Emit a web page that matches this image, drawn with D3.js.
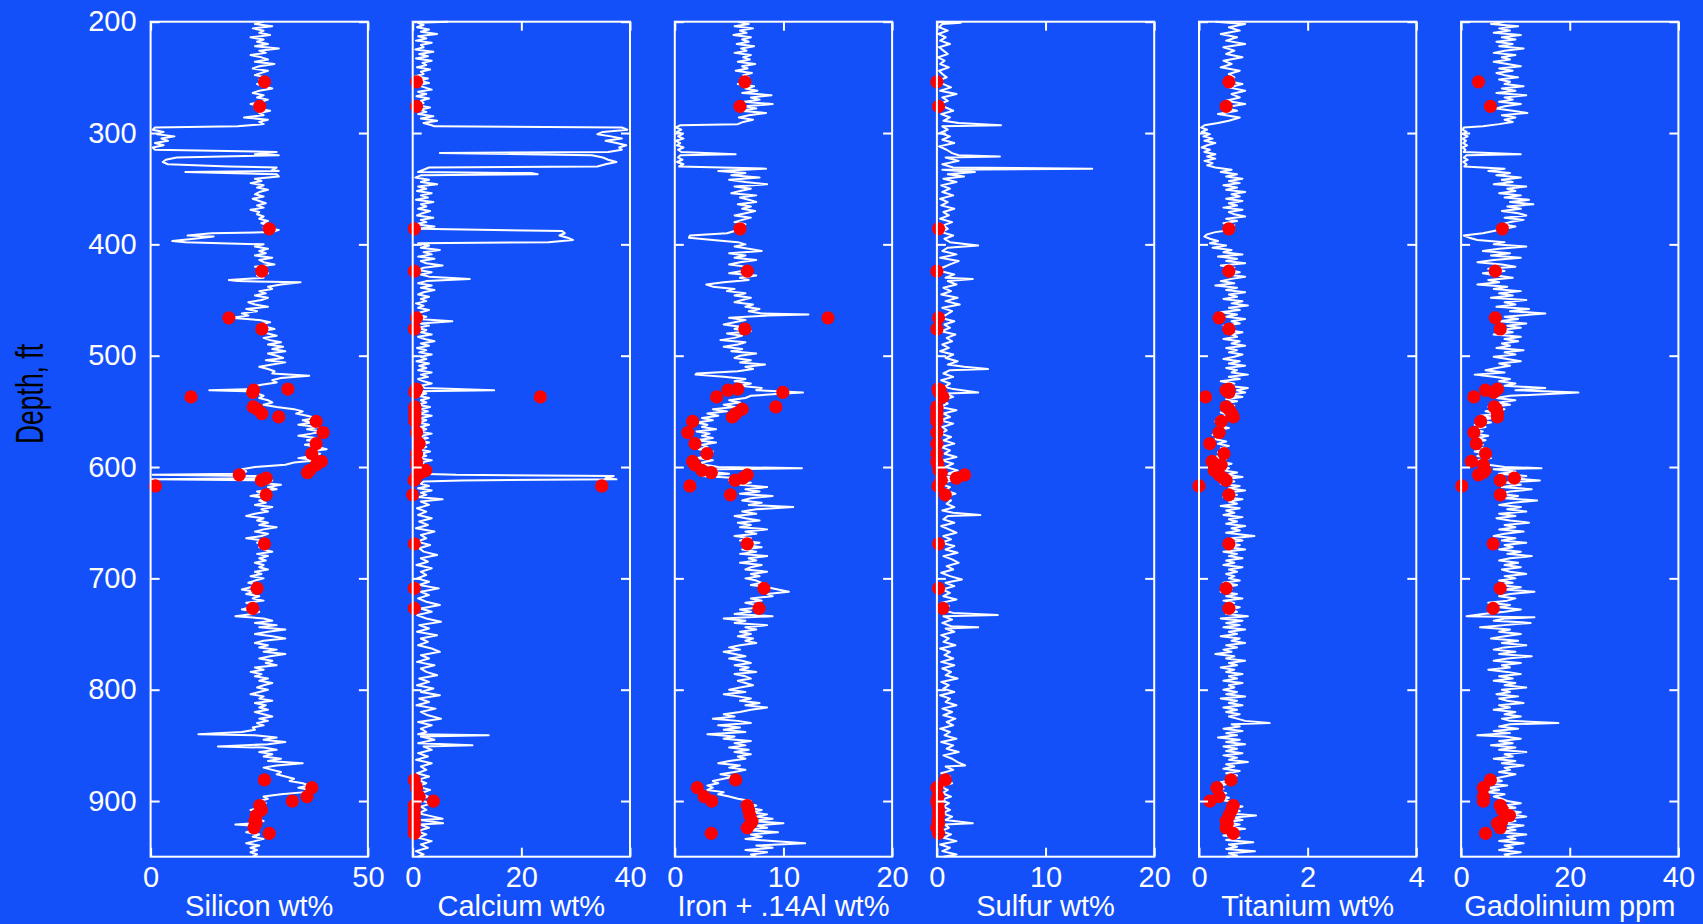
<!DOCTYPE html>
<html>
<head>
<meta charset="utf-8">
<script src="https://cdn.jsdelivr.net/npm/d3@7"></script>
<style>
  body { margin: 0; background: rgb(20,80,250); }
  svg { display: block; }
  text { font-family: "Liberation Sans", Arial, sans-serif; }
</style>
</head>
<body>
<script>
// depth, value pairs
var siliconLog = [[200,26],[202,24],[204,28],[206,23.5],[208,26],[210,25],[212,27.5],[214,23],[216,26],[218,24.5],[220,27],[222,24],[224,29.5],[226,25],[228,26.5],[230,23],[232,25.5],[234,27],[236,24],[238,28.5],[240,25],[242,23.5],[244,27],[246,25.5],[248,24],[250,26.5],[252,25],[254,27],[256,24.5],[258,26],[260,28],[262,25],[264,23.5],[266,26],[268,24.5],[270,27],[272,25.5],[274,23],[276,26],[278,24.5],[280,27.5],[282,25],[284,26],[286,21.5],[288,27],[290,25],[292,26],[294,20],[295,1],[297,0.5],[299,3],[301,1.5],[303,5.5],[305,2.5],[307,4],[309,1],[311,3],[313,0.5],[315,1],[317,29],[319,24],[320,29.5],[322,6],[324,3.5],[326,2.8],[328,4],[330,18],[331,29],[333,28],[334,29.5],[335,8],[337,29],[339,29.5],[341,24],[343,25.5],[345,23],[347,26],[349,24.5],[351,27],[353,25],[355,24],[357,26],[359,23.5],[361,25],[363,26.5],[365,24.5],[367,26],[369,23],[371,25],[373,24.5],[375,26],[377,25],[379,27],[381,25.5],[383,27.5],[385,26],[387,29.5],[389,28],[390,14],[392,8.5],[393,14.5],[395,10],[397,5],[398,8],[400,26],[402,24],[404,27],[406,25],[408,26.5],[410,24],[412,28],[414,25],[416,26],[418,28.5],[420,24],[422,26],[424,25.5],[426,27],[428,24.5],[430,26],[432,18],[433,20],[434,34.5],[436,30],[438,27],[440,28],[442,25],[444,26.5],[446,24],[448,27],[450,25.5],[452,22.5],[454,24],[456,27],[458,22],[460,24.5],[462,21],[464,22.5],[466,18.5],[468,25],[470,27.5],[472,25],[474,26.5],[476,28.5],[478,25],[480,27],[482,29],[484,26],[486,27.5],[488,30],[490,27],[492,30.5],[494,28],[496,31],[498,27],[500,29],[502,30.5],[504,26.5],[506,31],[508,28],[510,25],[512,27],[514,28.5],[516,28],[518,36.5],[520,30],[522,28],[524,29],[526,25.5],[528,23],[530,24],[531,13.5],[532,22],[534,24.5],[536,26],[538,25],[540,27],[542,28],[544,26],[546,29],[548,33],[550,35],[552,33.5],[554,36],[556,38],[558,35],[560,37],[562,34],[564,38.5],[566,36],[568,39.5],[570,37],[572,34],[574,38],[576,36],[578,39],[580,35.5],[582,38.5],[584,40.5],[586,36],[588,39],[590,37],[592,34],[594,38.5],[596,33],[598,31],[600,24],[602,21],[604,22],[606,20.5],[607,0.5],[608,24],[610,26],[611,0.3],[612,28],[614,25],[616,30],[618,27],[620,29],[622,24.5],[624,26],[626,23],[628,27.5],[630,25],[632,26.5],[634,24],[636,28],[638,25.5],[640,27],[642,24],[644,22],[646,26],[648,24.5],[650,27],[652,25],[654,29],[656,26],[658,24],[660,27],[662,25.5],[664,22],[666,26],[668,24.5],[670,27],[672,25],[674,26],[676,28],[678,24.5],[680,27],[682,25],[684,26.5],[686,24],[688,26],[690,25],[692,27],[694,24],[696,25.5],[698,23],[700,26],[702,24],[704,22.5],[706,25],[708,23],[710,21],[712,24],[714,22],[716,25],[718,23.5],[720,26],[722,22],[724,24],[726,23],[728,21],[730,25],[732,23.5],[734,19.5],[736,26],[738,28],[740,24],[742,29],[744,25],[746,31],[748,27],[750,24],[752,28],[754,31],[756,26],[758,24],[760,27],[762,25],[764,29],[766,26],[768,31],[770,27.5],[772,25],[774,28],[776,26.5],[778,29],[780,24],[782,26],[784,23],[786,25.5],[788,24],[790,27],[792,25],[794,28],[796,26],[798,24.5],[800,27],[802,25],[804,23],[806,26],[808,25],[810,28],[812,24],[814,26.5],[816,25],[818,27],[820,24],[822,26],[824,28],[826,25],[828,27],[830,24.5],[832,26],[834,23.5],[836,24],[838,21],[840,11],[841,24],[843,29],[845,26],[847,31],[849,27],[851,15.5],[852,26],[854,29],[856,25],[858,28],[860,26],[862,30],[864,27],[866,35],[868,29],[870,26],[872,28],[874,30],[876,29],[878,31],[880,33],[882,32],[884,35],[886,36.5],[888,34],[890,37],[892,35.5],[894,30],[896,26],[898,27],[900,25],[902,26.5],[904,24],[906,25.5],[908,23],[910,26],[912,24],[914,25],[916,23.5],[918,26],[920,24],[921,19.5],[922,23],[924,25],[926,24],[928,22],[930,25],[932,23.5],[934,26],[936,24],[938,22],[940,25],[942,23],[944,24.5],[946,23],[948,24.5],[950,23.5]];

var calciumLog = [[200,6.5],[201,1],[203,2],[205,0.8],[207,3],[209,1.5],[211,4.5],[213,1],[215,2.5],[217,0.6],[219,3.5],[221,1.5],[223,2],[225,0.5],[227,3.8],[229,1.2],[231,2.8],[233,0.6],[235,3.5],[237,1.8],[239,2.5],[241,0.8],[243,3.2],[245,1.5],[247,2],[249,0.5],[251,2.8],[253,1.2],[255,3],[257,0.8],[259,2.2],[261,3.5],[263,1],[265,2.5],[267,0.7],[269,3],[271,1.5],[273,2],[275,0.8],[277,3.2],[279,1.2],[281,2.5],[283,1],[285,3.8],[287,1.5],[289,4.5],[291,2],[293,3.5],[294,4],[295,38.5],[297,39.5],[299,35],[301,34],[303,36.5],[305,38.5],[307,35.5],[309,37.5],[311,39.3],[313,38],[315,38.5],[317,36],[318,5],[320,33],[322,35],[324,36],[326,37.5],[328,35.5],[330,34],[331,3],[333,2],[335,1],[336,22],[337,23],[338,1.5],[340,0.5],[342,3],[344,1.5],[346,4.5],[348,1],[350,2.5],[352,0.8],[354,3.5],[356,1.5],[358,2.8],[360,0.6],[362,3.8],[364,1.5],[366,2.5],[368,1],[370,3.2],[372,1.8],[374,0.8],[376,3.8],[378,1.5],[380,2.5],[382,0.5],[384,4],[386,1],[388,27.5],[390,28],[392,27],[394,28.5],[396,29.5],[398,25],[399,1],[401,3],[403,1.5],[405,5],[407,2],[409,3.5],[411,1],[413,4],[415,1.5],[417,2.5],[419,5.5],[421,2],[423,1],[425,3.5],[427,1.5],[429,3],[431,10.5],[433,2.5],[435,1],[437,3.5],[439,1.5],[441,4],[443,2],[445,1],[447,3],[449,1.5],[451,2.5],[453,0.6],[455,2],[457,1],[459,3],[461,1.5],[463,0.5],[465,2.5],[467,1],[469,7.3],[471,1.5],[473,3],[475,0.8],[477,2.5],[479,1.5],[481,3.5],[483,1],[485,2.2],[487,4],[489,1.5],[491,3],[493,0.8],[495,2.5],[497,1.2],[499,3.5],[501,1.5],[503,2.5],[505,0.7],[507,3],[509,1.2],[511,2.5],[513,1],[515,3.5],[517,1.5],[519,2.8],[521,1],[523,2],[525,3.5],[527,1.5],[529,2.2],[531,15],[532,1],[534,2.5],[536,1],[538,3],[540,1.5],[542,2.5],[544,0.8],[546,3.2],[548,1.5],[550,2.8],[552,1],[554,3.5],[556,1.5],[558,2.5],[560,1],[562,3],[564,1.5],[566,2.5],[568,1],[570,3.5],[572,1.5],[574,2.8],[576,1],[578,3],[580,1.5],[582,2.5],[584,0.8],[586,3.2],[588,1.5],[590,2.5],[592,1],[594,3.5],[596,1.5],[598,2.2],[600,3],[602,1.5],[604,2.5],[606,1],[607,8],[608,37],[610,35.5],[611,37.5],[612,9],[613,2],[615,1.5],[617,3],[619,1],[621,3.5],[623,1.5],[625,2.5],[627,1],[629,5.5],[631,1.5],[634,3],[637,0.8],[640,2.5],[643,1],[646,3.5],[649,1.2],[652,2.8],[655,0.6],[658,4],[661,1.5],[664,2.5],[667,0.8],[670,3.2],[673,1.2],[676,2],[679,4.5],[682,1.5],[685,2.8],[688,0.7],[691,3.5],[694,1.5],[697,2.5],[700,0.8],[703,3],[706,1.2],[709,4.8],[712,1.5],[715,3],[718,1],[721,2.5],[724,5],[727,1.5],[730,3.5],[733,0.8],[736,2.5],[739,5.2],[742,1.2],[745,3],[748,0.8],[751,4.5],[754,1.5],[757,2.8],[760,1],[763,3.5],[766,5],[769,1.5],[772,3],[775,0.8],[778,4],[781,1.5],[784,2.5],[787,4.5],[790,1.2],[793,3],[796,0.8],[799,3.8],[802,1.5],[805,5],[808,1.2],[811,3],[814,0.7],[817,4.2],[820,1.5],[823,2.8],[826,5.2],[829,1],[832,3.5],[835,1.5],[838,2.5],[840,1],[841,14],[842,1.5],[845,4],[848,1],[850,11],[851,2],[854,3.5],[857,1],[860,2.8],[863,0.6],[866,3.5],[869,1.5],[872,2.5],[875,0.8],[878,3],[881,1],[884,2.5],[887,0.8],[890,3.2],[893,1.5],[896,2.8],[899,1],[902,3.5],[905,1.5],[908,2.5],[911,1],[914,3.8],[916,5.5],[917,1.5],[920,5.6],[921,1.2],[924,3],[927,0.8],[930,2.5],[933,1],[936,3.5],[939,1.5],[942,2.8],[945,0.6],[948,2],[950,1]];

var ironLog = [[200,5.8],[202,6.8],[204,5.5],[206,7.2],[208,6],[210,6.6],[212,5.4],[214,7],[216,6.2],[218,6.8],[220,5.7],[222,7.3],[224,6.1],[226,6.6],[228,5.5],[230,7],[232,6.3],[234,6.9],[236,5.8],[238,7.4],[240,6.2],[242,6.7],[244,5.6],[246,7.1],[248,6.3],[250,6.8],[252,6],[254,6.6],[256,5.8],[258,7.3],[260,6.5],[262,7.6],[264,6.2],[266,8.9],[268,7],[270,7.8],[272,6.4],[274,9],[276,6.5],[278,7.5],[280,6],[282,8.4],[284,6.8],[286,5.9],[288,7.2],[290,6.3],[292,5.8],[293,0.5],[295,0.1],[297,0.6],[299,0.2],[301,0.7],[303,0.3],[305,0.8],[307,0.1],[309,0.5],[311,0.2],[313,0.8],[315,0.3],[317,0.6],[319,5.6],[320,0.5],[322,0.3],[324,0.7],[326,0.2],[328,0.8],[330,0.4],[332,8.4],[334,4],[336,6.5],[338,5.2],[340,7.8],[342,5],[344,6.5],[346,8.5],[348,5.5],[350,7],[352,6],[354,5.2],[356,7.5],[358,6],[360,6.8],[362,7.5],[364,5.8],[366,7],[368,6.2],[370,7.4],[372,6.5],[374,5.5],[376,7],[378,6.2],[380,5.5],[382,6.5],[384,5.8],[386,6],[388,5.5],[390,4.8],[392,1.4],[394,1.3],[396,3.5],[398,5.8],[400,6.5],[402,5.5],[404,6.8],[406,8],[408,5],[410,6.5],[412,5.5],[414,7.5],[416,6],[418,5],[420,6.5],[422,7],[424,6.2],[426,5],[428,7.5],[430,6],[432,6.8],[434,4.5],[436,2.9],[438,3.5],[440,5.5],[442,4.8],[444,6.5],[446,5.5],[448,7],[450,6.2],[452,5.5],[454,7.2],[456,6.5],[458,7.8],[460,6.8],[462,8],[463,12.3],[464,8.5],[466,5],[468,6.5],[470,5.5],[472,4.5],[474,6],[476,5.5],[478,7],[480,4.8],[482,6.2],[484,5.5],[486,4.2],[488,6.5],[490,5.8],[492,4.5],[494,6.2],[496,5.2],[498,7.5],[500,6],[502,5.5],[504,7],[506,6],[508,8.3],[510,6.5],[512,7.2],[514,5.8],[516,2],[517,1.9],[519,4.5],[521,6.5],[523,5.5],[525,7],[527,6],[529,8],[531,7.5],[533,11.8],[534,10],[536,7],[538,6.5],[540,5],[542,6],[544,4.5],[546,5.5],[548,3.5],[550,4.8],[552,3],[554,4],[556,2.5],[558,3.5],[560,2],[562,3],[564,2.5],[566,3.8],[568,2],[570,3.2],[572,2.5],[574,3.5],[576,2],[578,3.8],[580,2.5],[582,3],[584,2.2],[586,3.5],[588,2.6],[590,3],[592,2],[594,3.5],[596,2.5],[598,2.8],[600,4],[601,11.7],[602,4],[604,3],[606,5],[608,2.5],[610,6],[612,5],[614,7],[616,6],[618,8.5],[620,6.5],[622,7.8],[624,6],[626,9],[628,7],[630,6.2],[632,8],[634,6.8],[636,10.9],[638,7.5],[640,6.2],[642,7.5],[644,5.5],[646,6.5],[648,7.8],[650,5.8],[652,7],[654,6],[656,8.5],[658,6.5],[660,7.5],[662,5.5],[664,7],[666,6],[668,7.8],[670,6.5],[672,8],[674,6.2],[676,7.5],[678,6],[680,8.5],[682,6.8],[684,7.5],[686,6],[688,8],[690,7],[692,6.5],[694,8.5],[696,7],[698,7.8],[700,6.5],[702,7.5],[704,8],[706,7],[708,8.5],[710,9.5],[712,10.5],[714,8.5],[716,9],[718,7],[720,8],[722,6.5],[724,7.5],[726,8],[728,6],[730,7],[732,5.5],[734,9],[736,4.5],[738,6.5],[740,5.5],[742,8.5],[744,6.5],[746,7.5],[748,6],[750,7],[752,5.8],[754,7.2],[756,6.5],[758,7.5],[760,6],[762,5],[764,6],[766,4.5],[768,5.5],[770,6.5],[772,5],[774,6.2],[776,7],[778,5.5],[780,6.8],[782,6],[784,7.5],[786,5.5],[788,6.5],[790,7],[792,5.8],[794,6.5],[796,7.2],[798,6],[800,5],[802,6.5],[804,4.5],[806,5.8],[808,7],[810,6],[812,7.8],[814,6.5],[816,8.5],[818,7],[820,6],[822,4.5],[824,5.5],[826,3.5],[828,5.8],[830,7],[832,4],[834,6],[836,4.5],[838,6.5],[840,3],[842,5.5],[844,4.5],[846,7],[848,5.5],[850,6.5],[852,5],[854,6.8],[856,5.5],[858,7],[860,5.8],[862,6.5],[864,5],[866,4],[868,6],[870,5],[872,6.5],[874,5.5],[876,4.2],[878,5.5],[880,4.5],[882,3.5],[884,4],[886,3],[888,3.5],[890,3],[892,4.5],[894,4],[896,5],[898,5.8],[900,7],[902,6.5],[904,7.5],[906,6.8],[908,8],[910,7],[912,8.5],[914,7.5],[916,9],[918,7],[920,10],[922,7.5],[924,8.5],[926,6.5],[928,9.5],[930,7],[932,8],[934,6.5],[936,9],[938,12],[940,7.5],[942,9],[944,6.5],[946,8.5],[948,7],[950,7.5]];

var sulfurLog = [[200,0.3],[201,2.2],[202,0.5],[205,0.2],[208,1],[211,0.1],[214,0.8],[217,0.3],[220,1.2],[223,0.2],[226,0.6],[229,1],[232,0.1],[235,0.7],[238,0.3],[241,1.1],[244,0.2],[247,0.5],[250,0.9],[253,0.1],[256,0.6],[259,1.3],[262,0.3],[265,1.8],[268,0.5],[271,1],[274,0.2],[277,0.8],[280,1.5],[283,0.4],[286,1.2],[289,0.6],[291,2],[293,5.9],[294,0.5],[297,1],[300,0.3],[303,1.2],[306,0.5],[309,1.6],[312,0.2],[315,0.9],[318,1.4],[320,2],[321,5.8],[322,0.8],[325,2],[328,0.5],[331,1.5],[332,14.3],[333,0.5],[335,3.5],[337,1],[339,2.5],[341,0.6],[344,1.8],[347,0.4],[350,1.2],[353,0.5],[356,1.5],[359,0.3],[362,1],[365,0.4],[368,1.6],[371,0.6],[374,1.1],[377,0.3],[380,1.4],[383,0.6],[386,1],[389,0.4],[392,1.5],[395,0.7],[398,1.2],[401,3.8],[403,1],[406,0.5],[409,1.8],[412,0.3],[415,2],[418,1.2],[421,0.5],[424,0.3],[427,1.6],[430,0.8],[431,3.3],[433,1],[436,1.8],[439,0.6],[442,1.3],[445,0.4],[448,1.9],[451,0.8],[454,2.1],[457,0.5],[460,1.4],[463,0.9],[466,0.3],[469,1.6],[472,0.7],[475,1.2],[478,0.4],[481,1.7],[484,0.9],[487,1.4],[490,0.5],[493,1.1],[496,0.3],[499,1.5],[502,0.8],[505,1.9],[508,1],[510,2.5],[512,4.7],[513,1.2],[516,0.6],[519,1.5],[522,0.4],[525,1.2],[528,0.7],[530,1.5],[533,3.8],[534,0.8],[537,1.5],[540,0.5],[543,1],[546,0.3],[549,1.8],[552,0.6],[555,1.2],[558,0.3],[561,1.5],[564,0.5],[567,0.9],[570,0.3],[573,1.3],[576,0.6],[579,1.6],[582,0.4],[585,1.2],[588,0.7],[591,1.8],[594,0.5],[597,1.5],[600,0.8],[603,1.9],[606,1],[608,3],[609,0.6],[612,1.4],[615,0.3],[618,1.2],[621,0.8],[624,1.7],[627,0.4],[630,1.3],[633,0.9],[636,1.6],[639,0.5],[641,1.5],[643,4],[644,1],[647,0.6],[650,1.6],[653,0.4],[656,1.1],[659,1.8],[662,0.6],[665,1.3],[668,0.4],[671,1.6],[674,0.8],[677,1.9],[680,0.6],[683,1.4],[686,2],[689,0.9],[692,1.5],[695,0.4],[698,1.2],[701,2.3],[704,0.8],[707,1.6],[710,0.5],[713,1.2],[716,0.6],[719,1.8],[722,0.4],[725,1.1],[728,0.3],[731,1.5],[733,5.6],[734,0.6],[737,1.4],[740,0.5],[743,1.3],[744,3.8],[745,0.8],[748,1.6],[751,0.4],[754,1.1],[757,0.6],[760,1.7],[763,0.3],[766,1.2],[769,0.7],[772,1.5],[775,0.4],[778,1.6],[781,0.5],[784,1.3],[787,0.8],[790,1.9],[793,0.4],[796,1.1],[799,0.6],[802,1.6],[805,0.3],[808,1.2],[811,0.8],[814,1.8],[817,0.5],[820,1.4],[823,0.6],[826,1.7],[829,0.9],[832,1.5],[835,0.3],[838,1.2],[841,0.7],[844,1.8],[847,0.4],[850,1.5],[853,0.9],[856,2],[859,0.6],[862,1.4],[865,1.9],[868,2.6],[869,0.8],[872,1.5],[875,0.4],[878,1.2],[881,0.6],[884,1.4],[887,0.3],[890,1],[893,0.5],[896,1.3],[899,0.4],[902,1.1],[905,0.6],[908,1.2],[911,0.5],[914,1.4],[917,0.8],[920,3.3],[921,0.7],[924,1.1],[927,0.4],[930,1.3],[933,0.6],[936,1.8],[939,0.3],[942,1.2],[945,0.5],[948,1.8],[950,0.6]];

var titaniumLog = [[200,0.3],[202,0.85],[205,0.55],[208,0.75],[211,0.4],[214,0.7],[217,0.5],[220,0.85],[223,0.45],[226,0.65],[229,0.5],[232,0.8],[235,0.45],[238,0.6],[241,0.4],[244,0.75],[247,0.55],[250,0.65],[253,0.5],[256,0.8],[259,0.55],[262,0.85],[265,0.6],[268,0.75],[271,0.5],[274,0.85],[277,0.45],[280,0.7],[283,0.35],[286,0.75],[289,0.55],[291,0.35],[293,0.1],[295,0.04],[297,0.15],[299,0.05],[301,0.2],[303,0.08],[305,0.25],[307,0.1],[309,0.3],[311,0.15],[313,0.05],[315,0.2],[317,0.1],[319,0.3],[321,0.15],[323,0.3],[325,0.1],[327,0.25],[329,0.15],[331,0.3],[333,0.6],[335,0.4],[337,0.7],[339,0.5],[341,0.8],[343,0.55],[345,0.75],[347,0.45],[349,0.7],[351,0.5],[353,0.85],[355,0.6],[357,0.75],[359,0.5],[361,0.8],[363,0.55],[365,0.7],[367,0.45],[369,0.8],[371,0.55],[373,0.65],[375,0.85],[377,0.5],[379,0.7],[381,0.45],[383,0.65],[385,0.5],[387,0.6],[389,0.3],[391,0.15],[393,0.1],[395,0.2],[397,0.35],[399,0.2],[401,0.5],[403,0.25],[405,0.6],[407,0.45],[409,0.8],[411,0.35],[413,0.7],[415,0.5],[417,0.85],[419,0.4],[421,0.65],[423,0.55],[425,0.75],[427,0.5],[429,0.85],[431,0.6],[433,0.4],[435,0.65],[437,0.3],[439,0.7],[441,0.5],[443,0.85],[445,0.55],[447,0.7],[449,0.45],[451,0.8],[453,0.6],[455,0.9],[457,0.55],[459,0.75],[461,0.4],[463,0.7],[465,0.5],[467,0.85],[469,0.6],[471,0.75],[473,0.45],[475,0.65],[477,0.5],[479,0.8],[481,0.6],[483,0.7],[485,0.45],[487,0.75],[489,0.6],[491,0.85],[493,0.5],[495,0.7],[497,0.55],[499,0.8],[501,0.65],[503,0.45],[505,0.75],[507,0.55],[509,0.85],[511,0.5],[513,0.7],[515,0.6],[517,0.9],[519,0.55],[521,0.75],[523,0.4],[525,0.65],[527,0.5],[529,0.9],[531,0.7],[533,0.85],[535,0.55],[537,0.8],[539,0.5],[541,0.7],[543,0.45],[545,0.65],[547,0.5],[549,0.6],[551,0.4],[553,0.55],[555,0.35],[557,0.5],[559,0.3],[561,0.45],[563,0.35],[565,0.55],[567,0.3],[569,0.45],[571,0.25],[573,0.4],[575,0.3],[577,0.5],[579,0.35],[581,0.55],[583,0.4],[585,0.5],[587,0.35],[589,0.45],[591,0.3],[593,0.5],[595,0.35],[597,0.6],[599,0.4],[601,0.55],[603,0.45],[605,0.7],[607,0.5],[609,0.8],[611,0.45],[613,0.65],[615,0.4],[617,0.75],[619,0.55],[621,0.85],[623,0.5],[625,0.7],[627,0.45],[629,0.8],[631,0.55],[633,0.7],[635,0.4],[637,0.75],[639,0.5],[641,0.65],[643,0.45],[645,0.8],[647,0.55],[649,0.7],[651,0.5],[653,0.85],[655,0.6],[657,0.75],[659,0.5],[661,0.85],[662,1.02],[664,0.6],[666,0.8],[668,0.5],[670,0.75],[672,0.55],[674,0.85],[676,0.45],[678,0.7],[680,0.55],[682,0.8],[684,0.5],[686,0.65],[688,0.45],[690,0.8],[692,0.55],[694,0.7],[696,0.5],[698,0.65],[700,0.55],[702,0.75],[704,0.45],[706,0.7],[708,0.5],[710,0.6],[712,0.4],[714,0.7],[716,0.5],[718,0.8],[720,0.45],[722,0.65],[724,0.5],[726,0.75],[728,0.55],[730,0.7],[732,0.5],[734,0.9],[736,0.4],[738,0.8],[740,0.5],[742,0.75],[744,0.45],[746,0.85],[748,0.55],[750,0.7],[752,0.4],[754,0.75],[756,0.6],[758,0.85],[760,0.5],[762,0.7],[764,0.45],[766,0.6],[768,0.3],[770,0.65],[772,0.5],[774,0.85],[776,0.55],[778,0.7],[780,0.4],[782,0.65],[784,0.5],[786,0.8],[788,0.55],[790,0.7],[792,0.45],[794,0.8],[796,0.55],[798,0.65],[800,0.45],[802,0.7],[804,0.5],[806,0.85],[808,0.4],[810,0.7],[812,0.55],[814,0.8],[816,0.45],[818,0.7],[820,0.5],[822,0.75],[824,0.55],[826,0.7],[828,0.85],[830,1.3],[831,0.6],[833,0.75],[835,0.45],[837,0.8],[839,0.5],[841,0.7],[843,0.35],[845,0.75],[847,0.5],[849,0.85],[851,0.45],[853,0.7],[855,0.5],[857,0.8],[859,0.45],[861,0.7],[863,0.55],[865,0.9],[867,0.5],[869,0.65],[871,0.45],[873,0.75],[875,0.5],[877,0.7],[879,0.55],[881,0.6],[883,0.4],[885,0.5],[887,0.35],[889,0.45],[891,0.3],[893,0.5],[895,0.35],[897,0.55],[899,0.4],[901,0.7],[903,0.55],[905,0.8],[907,0.6],[909,0.75],[911,0.5],[913,1.05],[915,0.6],[917,0.8],[919,0.5],[921,0.75],[923,0.55],[925,0.85],[927,0.5],[929,0.7],[931,0.45],[933,0.75],[935,0.5],[937,1],[939,0.55],[941,0.7],[943,0.5],[945,1.03],[947,0.55],[949,0.7],[950,0.5]];

var gadoliniumLog = [[200,8],[202,5.5],[204,10.5],[206,7],[208,9],[210,6],[212,11],[214,7.5],[216,10],[218,6.5],[220,9.5],[222,7],[224,11.5],[226,8],[228,6],[230,10],[232,7.5],[234,9],[236,6],[238,8.5],[240,11],[242,7],[244,9.5],[246,6.5],[248,8],[250,10.5],[252,7],[254,9],[256,8],[258,11.5],[260,7.5],[262,10],[264,6.5],[266,12],[268,8],[270,9.5],[272,7],[274,11],[276,8],[278,6.5],[280,9.5],[282,12.2],[284,7.5],[286,10],[288,8],[290,9.5],[292,7],[294,4],[295,0.5],[297,0.3],[299,1],[301,0.4],[303,1.2],[305,0.3],[307,0.9],[309,0.4],[311,1.1],[313,0.3],[315,0.8],[317,0.5],[319,11],[320,1],[322,0.5],[324,1.2],[326,0.4],[328,1],[330,0.6],[332,8],[334,5],[336,9],[338,6.5],[340,11],[342,7.5],[344,9.5],[346,6],[348,12],[350,8.5],[352,10],[354,7],[356,11],[358,8],[360,12.5],[362,9],[364,13.3],[366,8.5],[368,11],[370,7.5],[372,10.5],[374,12],[376,8],[378,11.5],[380,9],[382,7.5],[384,10],[386,8],[388,6],[390,4],[392,0.5],[394,1.5],[396,3],[398,8],[400,6],[402,12],[404,7],[406,4],[408,9],[410,5.5],[412,11],[414,6],[416,3],[418,7.5],[420,10],[422,5],[424,8],[426,4],[428,6.5],[430,9.5],[432,5],[434,7],[436,3],[438,8.5],[440,6],[442,11],[444,7],[446,9.5],[448,5.5],[450,12],[452,8],[454,10],[456,6.5],[458,12.5],[460,9],[462,15.5],[463,13],[465,8],[467,10.5],[469,7],[471,12],[473,8.5],[475,11],[477,7],[479,9.5],[481,6],[483,11],[485,8],[487,10.5],[489,7.5],[491,9],[493,6.5],[495,11.5],[497,8],[499,10],[501,6],[503,8.5],[505,11],[507,7],[509,9],[511,6.5],[513,4.5],[515,8],[517,2.5],[519,6],[521,9],[523,7],[525,10],[527,8],[529,15.5],[531,10],[533,21.6],[534,18],[536,9],[538,6.5],[540,10],[542,7],[544,9],[546,5],[548,8],[550,4.5],[552,7],[554,3.5],[556,6],[558,3],[560,5.5],[562,2.5],[564,4.5],[566,2],[568,4],[570,2.5],[572,5],[574,3],[576,4.5],[578,2],[580,4],[582,3],[584,5],[586,2.5],[588,4.5],[590,3],[592,5.5],[594,3],[596,4],[598,5],[600,8],[601,14.8],[602,6],[604,10],[606,7],[608,12],[610,9],[612,14.5],[614,8],[616,11],[618,7.5],[620,13],[622,9],[624,7],[626,10.5],[628,8],[630,14],[632,9.5],[634,7],[636,11],[638,8.5],[640,12],[642,7],[644,10],[646,6.5],[648,9],[650,12.5],[652,8],[654,10],[656,7],[658,11.5],[660,8],[662,6],[664,10],[666,7.5],[668,12],[670,8],[672,9.5],[674,7],[676,11],[678,8.5],[680,13],[682,9],[684,7],[686,10.5],[688,8],[690,11],[692,7.5],[694,9],[696,12],[698,8],[700,10],[702,7],[704,9.5],[706,6.5],[708,11],[710,8],[712,13.5],[714,9],[716,7],[718,10],[720,8.5],[722,5],[724,9],[726,7],[728,11],[730,8],[732,4],[734,1],[735,13.5],[736,8],[738,6],[740,12.8],[742,8],[744,3.5],[746,9],[748,7],[750,11],[752,8],[754,5.5],[756,10.5],[758,7.5],[760,12],[762,8],[764,6],[766,10],[768,7],[770,13],[772,8.5],[774,6],[776,11],[778,7.5],[780,9],[782,5],[784,8.5],[786,11],[788,7],[790,9.5],[792,6],[794,10],[796,8],[798,12],[800,7.5],[802,9],[804,6.5],[806,10.5],[808,7],[810,8.5],[812,11.5],[814,7],[816,9],[818,6],[820,10],[822,8],[824,11],[826,7.5],[828,9],[830,17.9],[831,9],[833,7],[835,10.5],[837,6],[839,9],[841,3],[842,8],[844,11],[846,7],[848,9.5],[850,5.5],[852,10],[854,7],[856,12],[858,8],[860,9.5],[862,6],[864,10],[866,7.5],[868,11.5],[870,8],[872,9],[874,7],[876,10],[878,8],[880,6],[882,7.5],[884,4.5],[886,8.5],[888,5],[890,7],[892,4.5],[894,8],[896,6],[898,7.5],[900,8.5],[902,11],[904,8],[906,10],[908,7.5],[910,11],[912,9],[914,12],[916,8],[918,10],[920,7],[922,11.5],[924,8.5],[926,10],[928,7],[930,12],[932,8.5],[934,10],[936,7],[938,11.5],[940,8],[942,9.5],[944,7],[946,11],[948,8],[950,9]];

// core sample depths (red dots) and the measured values at each
var sampleDepth = [254,276,386,424,466,476,530,531,533,537,546,548,552,555,559,569,579,588,595,598,603,605,607,610,612,617,625,669,709,727,881,888,896,900,904,908,913,918,920,924,929];
var siliconSample = [26.2,25.1,27.3,25.6,18.0,25.6,31.6,23.7,23.5,9.3,23.6,24.5,25.6,29.5,38.1,39.7,38.1,37.1,39.3,38.1,36.6,36.1,20.4,26.6,25.5,1.1,26.6,26.2,24.5,23.5,26.2,37.1,36.0,32.6,25.1,25.5,24.3,24.0,24.3,23.8,27.3];
var calciumSample = [0.7,0.7,0.3,0.3,0.7,0.3,0.7,0.5,0.4,23.5,0.4,0.4,0.4,0.4,0.4,0.7,1.2,0.7,0.7,0.7,2.4,1.5,0.8,0.5,0.25,34.8,0,0.3,0.3,0.3,0.3,0.7,1.2,3.8,0.3,0.3,0.3,0.3,0.3,0.3,0.3];
var ironSample = [6.45,6.0,6.0,6.67,14.1,6.45,5.8,4.9,9.94,3.86,9.3,6.2,5.6,5.3,1.64,1.2,1.85,2.96,1.64,1.85,2.5,3.36,6.67,6.27,5.55,1.39,5.12,6.67,8.2,7.75,5.6,2.07,2.7,3.4,6.67,6.8,6.9,7.1,7.0,6.67,3.36];
var sulfurSample = [0,0.15,0.15,0,0.15,0,0.1,0.3,0.2,0.55,0,0,0,0,0,0,0,0,0,0.1,0.2,0.4,2.55,1.8,0.4,0.1,0.77,0.15,0.15,0.55,0.77,0,0.1,0,0.1,0.15,0.15,0.1,0.15,0,0.15];
var titaniumSample = [0.55,0.5,0.55,0.55,0.37,0.55,0.55,0.5,0.55,0.12,0.5,0.55,0.6,0.63,0.41,0.37,0.2,0.46,0.24,0.41,0.28,0.35,0.37,0.45,0.5,0,0.55,0.55,0.5,0.55,0.59,0.33,0.37,0.2,0.63,0.6,0.55,0.5,0.52,0.5,0.63];
var gadoliniumSample = [3.2,5.4,7.6,6.3,6.3,7.2,6.7,4.5,6.0,2.35,6.1,6.5,6.7,6.7,3.6,2.35,2.8,4.5,1.9,4.1,4.4,4.0,3.2,9.8,7.2,0.12,7.2,5.9,7.2,5.9,5.4,4.1,4.1,4.1,7.2,7.6,8.9,7.5,6.7,7.2,4.5];

var panelTitles = ["Silicon wt%", "Calcium wt%", "Iron + .14Al wt%", "Sulfur wt%", "Titanium wt%", "Gadolinium ppm"];
var panelMax = [50, 40, 20, 20, 4, 40];
var panelTicks = [[0,50],[0,20,40],[0,10,20],[0,10,20],[0,2,4],[0,20,40]];
var depthTicks = [200,300,400,500,600,700,800,900];

var logs = [siliconLog, calciumLog, ironLog, sulfurLog, titaniumLog, gadoliniumLog];
var samples = [siliconSample, calciumSample, ironSample, sulfurSample, titaniumSample, gadoliniumSample];

var width = 1703,
  height = 924;

var panelTop = 21.7,
  panelBottom = 856.7,
  panelWidth = 217.3,
  firstLeft = 150.6,
  panelStep = 262.1;

var scaleY = d3.scaleLinear()
                .domain([200, 950])
                .range([panelTop, panelBottom]);

window.onload = function() {
  var svg = d3.select("body").append("svg")
              .attr("width", width)
              .attr("height", height);

  svg.append("rect")
     .attr("width", width)
     .attr("height", height)
     .attr("fill", "rgb(20,80,250)");

  for (var i = 0; i < logs.length; i++) {
    drawPanel(svg, i);
  }

  svg.append("text")
     .attr("transform", "translate(43," + 394 + ") rotate(-90)")
     .attr("text-anchor", "middle")
     .attr("font-size", 38)
     .attr("textLength", 100)
     .attr("lengthAdjust", "spacingAndGlyphs")
     .attr("fill", "black")
     .text("Depth, ft");
}

function drawPanel(svg, i) {
  var left = firstLeft + i * panelStep;
  var scaleX = d3.scaleLinear()
                  .domain([0, panelMax[i]])
                  .range([left, left + panelWidth]);

  var g = svg.append("g");

  var line = d3.line()
               .x(function(d) { return scaleX(d[1]); })
               .y(function(d) { return scaleY(d[0]); });

  g.append("path")
   .datum(logs[i])
   .attr("d", line)
   .attr("fill", "none")
   .attr("stroke", "white")
   .attr("stroke-width", 2)
   .attr("stroke-linejoin", "round");

  g.selectAll("circle")
   .data(samples[i])
   .enter()
   .append("circle")
   .attr("cx", function(d) { return scaleX(d); })
   .attr("cy", function(d, j) { return scaleY(sampleDepth[j]); })
   .attr("r", 6.6)
   .attr("fill", "red");

  // axes, ticks pointing inward
  var bottom = g.append("g")
                .attr("transform", "translate(0," + panelBottom + ")")
                .call(d3.axisBottom(scaleX).tickValues(panelTicks[i]).tickSize(-9).tickPadding(10)
                        .tickFormat(d3.format("~g")));
  var top = g.append("g")
             .attr("transform", "translate(0," + panelTop + ")")
             .call(d3.axisTop(scaleX).tickValues(panelTicks[i]).tickSize(-9).tickFormat(""));
  var leftAxis = d3.axisLeft(scaleY).tickValues(depthTicks).tickSize(-9).tickPadding(14);
  if (i > 0) leftAxis.tickFormat("");
  var lft = g.append("g")
             .attr("transform", "translate(" + left + ",0)")
             .call(leftAxis);
  var rgt = g.append("g")
             .attr("transform", "translate(" + (left + panelWidth) + ",0)")
             .call(d3.axisRight(scaleY).tickValues(depthTicks).tickSize(-9).tickFormat(""));

  [bottom, top, lft, rgt].forEach(function(a) {
    a.select(".domain").remove();
    a.selectAll("line").attr("stroke", "white").attr("stroke-width", 2);
    a.selectAll("text")
     .attr("fill", "white")
     .attr("font-size", 29)
     .attr("font-family", "'Liberation Sans', Arial, sans-serif");
  });

  g.append("rect")
   .attr("x", left)
   .attr("y", panelTop)
   .attr("width", panelWidth)
   .attr("height", panelBottom - panelTop)
   .attr("fill", "none")
   .attr("stroke", "white")
   .attr("stroke-width", 2);

  g.append("text")
   .attr("x", left + panelWidth / 2)
   .attr("y", 916)
   .attr("text-anchor", "middle")
   .attr("font-size", 29)
   .attr("fill", "white")
   .text(panelTitles[i]);
}
</script>
</body>
</html>
